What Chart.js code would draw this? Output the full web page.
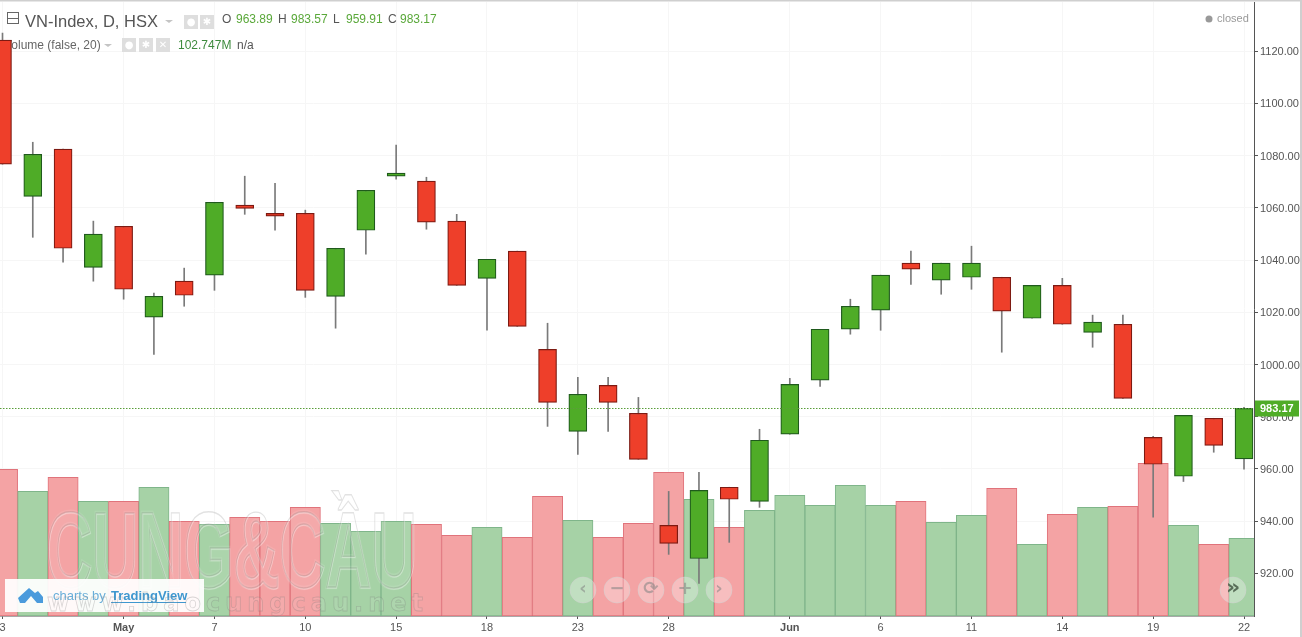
<!DOCTYPE html>
<html><head><meta charset="utf-8">
<style>html,body{margin:0;padding:0;background:#fff;overflow:hidden}canvas{display:block}</style>
<script src="https://cdn.jsdelivr.net/npm/chart.js@4"></script>
</head><body><canvas id="c" width="1302" height="637"></canvas>
<script>
const opens  = [1124.2,1064.4,1082.5,1037.2,1052.9,1018.1,1031.9,1034.2,1061,1057.9,1057.9,1026.1,1051.4,1072.1,1070.2,1054.9,1033,1043.4,1005.8,974.4,992,981.3,938.4,925.7,953,947.6,973.3,994,1013.5,1020.8,1038.8,1032.3,1033.4,1033.4,1017.7,1030.3,1012.3,1015.4,972.1,957.2,979.4,963.89];
const closes = [1076.7,1080.5,1044.5,1049.9,1028.8,1026.1,1026.5,1062.1,1059.8,1056.8,1028.4,1044.5,1066.7,1073.3,1054.5,1030.3,1040.3,1014.6,985.5,988.6,985.5,963.7,931.5,951.8,948.4,971,992.4,1013.5,1022.3,1034.2,1036.5,1038.8,1038.8,1020.4,1030.3,1015.4,1016.2,987,961.8,980.5,969,983.17];
const highs  = [1126.9,1085.1,1082.5,1054.9,1052.9,1027.3,1036.9,1062.1,1072.1,1069.4,1059.1,1044.5,1066.7,1084,1071.7,1057.5,1040.3,1043.4,1015.8,995.1,995.1,987.4,951.4,958.7,953,975.2,994.7,1013.5,1025,1034.2,1043.4,1038.8,1045.3,1033.4,1030.3,1033,1018.9,1018.9,972.5,980.5,979.4,983.57];
const lows   = [1076.7,1048.7,1039.2,1031.9,1025,1003.9,1022.3,1028.4,1057.5,1051.4,1025.7,1013.9,1042.2,1071,1051.8,1030.3,1013.1,1014.6,976.3,965.6,974.4,963.7,927.3,916.2,931.9,945.3,973.3,991.6,1011.6,1013.1,1030.7,1026.9,1028.8,1004.7,1017.7,1015.4,1006.6,987,941.5,955.2,966.4,959.91];
const volumes= [194.3,165.1,183.7,151.8,151.8,170.4,125.3,121.3,130.6,125.3,143.9,122.7,112,125.3,121.3,106.7,117.4,104.1,158.5,126.6,104.1,122.7,190.3,154.5,117.4,139.9,159.8,146.5,173,146.5,151.8,124,133.3,169.1,94.8,134.6,143.9,145.2,202.2,120,94.8,102.747];
const tickIndices = [0,4,7,10,13,16,19,22,26,29,32,35,38,41];
const tickLabels  = ['3','May','7','10','15','18','23','28','Jun','6','11','14','19','22'];
const priceTicks  = [920,940,960,980,1000,1020,1040,1060,1080,1100,1120];

const GREEN='#4fac27',RED='#ee3f2a',GB='#1f5a1c',RB='#7d1a12';
const isUp=i=>closes[i]>=opens[i];
const idx=opens.map((_,i)=>i);

const overlay={id:'overlay',
  beforeDatasetsDraw(ch){
    const c=ch.ctx;
    c.save();
    c.strokeStyle='#666';c.lineWidth=1;c.strokeRect(7.5,12.5,11,11);
    c.beginPath();c.moveTo(8,18.5);c.lineTo(18,18.5);c.stroke();
    c.textBaseline='alphabetic';
    c.font='16.5px "Liberation Sans"';c.fillStyle='#555';c.fillText('VN-Index, D, HSX',25,27);
    const caret=(x,yy)=>{c.fillStyle='#c4c4c4';c.beginPath();c.moveTo(x-4,yy);c.lineTo(x+4,yy);c.lineTo(x,yy+3);c.closePath();c.fill();};
    caret(169,20);caret(108,44);
    const icon=(x,yy,g)=>{c.fillStyle='#dedede';c.fillRect(x,yy,14,14);c.fillStyle='#fff';c.font='bold 10px "DejaVu Sans"';c.textAlign='center';c.textBaseline='middle';c.fillText(g,x+7,yy+7);c.textAlign='left';c.textBaseline='alphabetic';};
    icon(184,15,'●');icon(200,15,'✱');icon(122,38,'●');icon(139,38,'✱');icon(156,38,'✕');
    c.font='12px "Liberation Sans"';
    [['O',222,'#555',23],['963.89',236,'#5aa83a',23],['H',278,'#555',23],['983.57',291,'#5aa83a',23],['L',333,'#555',23],['959.91',346,'#5aa83a',23],['C',388,'#555',23],['983.17',400,'#5aa83a',23],
     ['Volume (false, 20)',4,'#666',49],['102.747M',178,'#3d8b3d',49],['n/a',237,'#555',49]].forEach(([t,x,col,yy])=>{
      c.fillStyle=col;c.fillText(t,x,yy);
    });
    c.fillStyle='#999';c.beginPath();c.arc(1209,19,3.5,0,Math.PI*2);c.fill();
    c.font='11px "Liberation Sans"';c.fillStyle='#999';c.fillText('closed',1217,22);
    c.restore();
  },
  afterDatasetsDraw(ch){
    const c=ch.ctx;
    // watermark
    c.save();
    c.translate(46,587);c.scale(1,1.12);
    c.font='bold 96px "Liberation Sans"';c.textBaseline='alphabetic';
    const w=c.measureText('CUNG&CẦU').width;c.scale(371/w,1);
    c.fillStyle='rgba(255,255,255,.07)';c.fillText('CUNG&CẦU',0,0);
    c.lineWidth=4;c.strokeStyle='rgba(255,255,255,.1)';c.strokeText('CUNG&CẦU',0,0);
    c.lineWidth=1.2;
    c.strokeStyle='rgba(255,255,255,.3)';c.strokeText('CUNG&CẦU',1,1);
    c.strokeStyle='rgba(110,110,110,.2)';c.strokeText('CUNG&CẦU',0,0);
    c.restore();
    // logo box
    c.save();
    c.fillStyle='rgba(255,255,255,.93)';c.fillRect(5,579,199,33);
    c.fillStyle='#4a9bdc';
    c.beginPath();c.moveTo(18,598);c.lineTo(29,588);c.lineTo(35,593);c.lineTo(38,591);c.lineTo(43,597);c.lineTo(43,603);c.lineTo(37,603);c.lineTo(31,596);c.lineTo(25,603);c.lineTo(20,603);c.closePath();c.fill();
    c.font='13px "Liberation Sans"';c.textBaseline='middle';c.fillStyle='#6aaed9';c.fillText('charts by',53,596);
    c.font='bold 13px "Liberation Sans"';c.fillStyle='#3f97cf';c.fillText('TradingView',111,596);
    c.fillRect(111,602,75,1);
    c.restore();
    c.save();
    c.font='bold 24px "DejaVu Sans"';c.letterSpacing='5px';c.textBaseline='alphabetic';
    c.fillStyle='rgba(255,255,255,.08)';c.fillText('www.baocungcau.net',47,611);
    c.lineWidth=.8;c.strokeStyle='rgba(120,120,120,.28)';c.strokeText('www.baocungcau.net',47,611);
    c.restore();
    // nav buttons
    c.save();
    const bt=[[583,'‹'],[617,'−'],[651,'⟳'],[685,'+'],[719,'›'],[1233,'»']];
    bt.forEach(([x,g])=>{
      c.beginPath();c.arc(x,590,13,0,Math.PI*2);c.fillStyle='rgba(255,255,255,.3)';c.fill();
      c.strokeStyle='rgba(210,210,210,.5)';c.stroke();
      c.fillStyle=x>1000?'rgba(70,90,70,.85)':'rgba(130,130,130,.55)';
      c.font=(x>1000?'bold 22px':'bold 18px')+' "DejaVu Sans"';c.textAlign='center';c.textBaseline='middle';c.fillText(g,x,x>1000?588:589);
    });
    c.restore();
  },
  afterDraw(ch){
    const c=ch.ctx,y=ch.scales.y,a=ch.chartArea;
    const last=closes[closes.length-1];
    const py=Math.round(y.getPixelForValue(last))+.5;
    c.save();
    c.strokeStyle='#5a9e3a';c.lineWidth=1;c.setLineDash([1.5,1.5]);
    c.beginPath();c.moveTo(0,py);c.lineTo(a.right,py);c.stroke();c.setLineDash([]);
    c.fillStyle=GREEN;c.fillRect(1255,py-8,44,16);
    c.fillStyle='#fff';c.font='bold 11px "Liberation Sans"';c.textBaseline='middle';c.textAlign='left';
    c.fillText(last.toFixed(2),1260,py+.5);
    c.fillStyle='#cfcfcf';c.fillRect(0,0,1302,1.5);c.fillRect(1300,0,2,637);
    c.restore();
  }};

new Chart(document.getElementById('c'),{
  data:{datasets:[
    {type:'bar',order:3,yAxisID:'v',grouped:false,barPercentage:1,categoryPercentage:1,
     data:idx.map(i=>({x:i,y:volumes[i]})),
     backgroundColor:idx.map(i=>isUp(i)?'#a6d2a6':'#f4a3a4'),
     borderColor:idx.map(i=>isUp(i)?'#7fb58a':'#e0737b'),borderWidth:1,borderSkipped:false},
    {type:'bar',order:2,yAxisID:'y',grouped:false,barThickness:1,
     data:idx.map(i=>({x:i,y:[lows[i],highs[i]]})),backgroundColor:'#7a7a7a'},
    {type:'bar',order:1,yAxisID:'y',grouped:false,barThickness:18,
     data:idx.map(i=>({x:i,y:[opens[i],closes[i]]})),
     backgroundColor:idx.map(i=>isUp(i)?GREEN:RED),
     borderColor:idx.map(i=>isUp(i)?GB:RB),borderWidth:1.2,borderSkipped:false}
  ]},
  options:{
    responsive:false,animation:false,devicePixelRatio:1,
    layout:{padding:{top:2,left:0,right:0,bottom:0}},
    plugins:{legend:{display:false},tooltip:{enabled:false}},
    scales:{
      x:{type:'linear',offset:false,min:-0.0826,max:41.33,
        afterBuildTicks(s){s.ticks=tickIndices.map(v=>({value:v}));},
        afterFit(s){s.height=21;s.paddingLeft=0;s.paddingRight=0;},
        grid:{offset:false,color:'#f6f6f6',tickColor:'#555',tickLength:3},
        border:{color:'#555',width:1.5},
        ticks:{autoSkip:false,maxRotation:0,padding:2,color:'#555',
          callback:v=>tickLabels[tickIndices.indexOf(v)],
          font:ctx=>({family:'Liberation Sans',size:11,weight:/[A-Za-z]/.test(tickLabels[ctx.index]||'')?'bold':'normal'})}},
      y:{position:'right',min:903.7,max:1138.8,
        afterBuildTicks(s){s.ticks=priceTicks.map(v=>({value:v}));},
        afterFit(s){s.width=48;s.paddingTop=0;s.paddingBottom=0;},
        grid:{color:'#f6f6f6',tickColor:'#555',tickLength:4},
        border:{color:'#555',width:1},
        ticks:{padding:2,labelOffset:1,color:'#555',font:{family:'Liberation Sans',size:11},callback:v=>v.toFixed(2)}},
      v:{display:false,min:0,max:813}
    }
  },
  plugins:[overlay]
});
</script></body></html>
